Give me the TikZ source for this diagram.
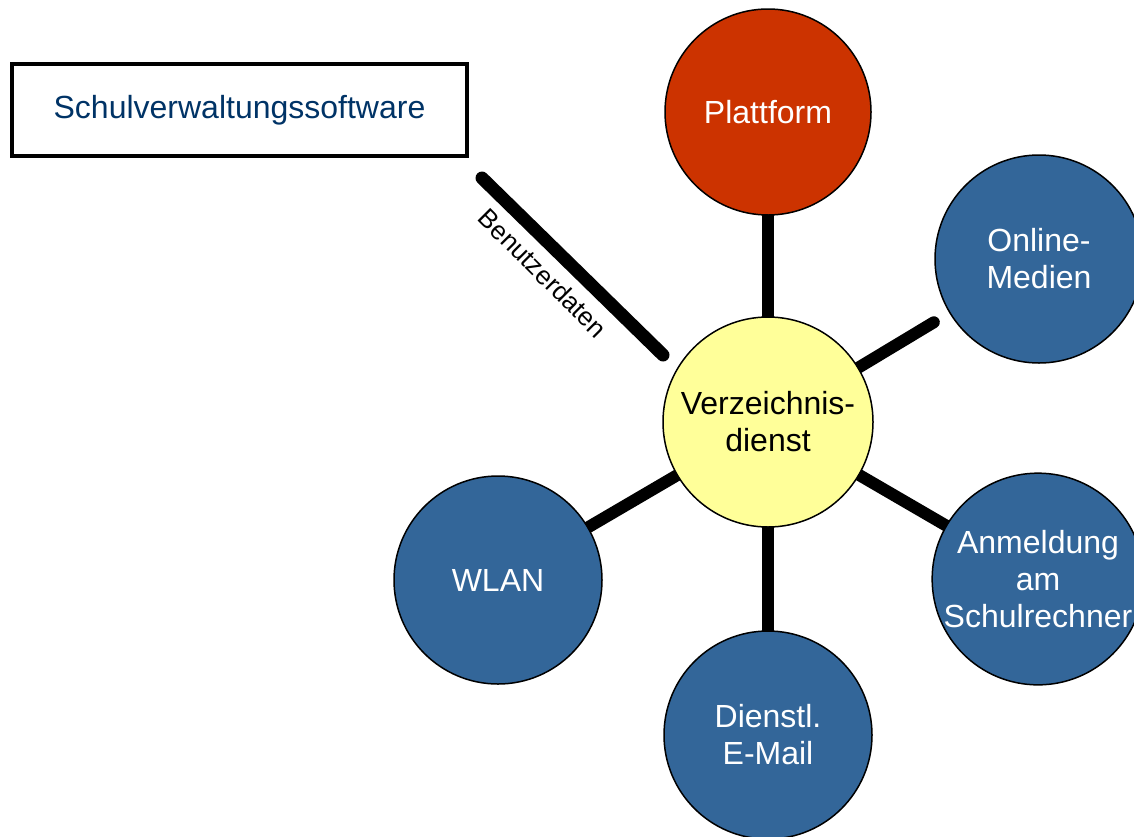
\documentclass[tikz,border=0pt]{standalone}
\usepackage{fontspec}
\setmainfont{Liberation Sans}
\usetikzlibrary{backgrounds}
\definecolor{nodeblue}{RGB}{51,102,153}
\definecolor{nodered}{RGB}{204,51,0}
\definecolor{nodeyellow}{RGB}{255,255,153}
\definecolor{textblue}{RGB}{0,51,102}
\begin{document}
\begin{tikzpicture}[x=1pt,y=-1pt,
  bubble/.style={circle,draw=black,line width=1.5pt,minimum size=208pt,inner sep=0pt,
    align=center,text=white,font=\fontsize{32}{37}\selectfont},
  bluebubble/.style={bubble,fill=nodeblue},
  conn/.style={line width=12pt,line cap=round,draw=black},
  lbl/.style={font=\fontsize{26}{30}\selectfont}]
\useasboundingbox (0,0) rectangle (1134,836);
\node[bubble,fill=nodeyellow,text=black,minimum size=210pt] (vz) at (768,422) {Verzeichnis-\\dienst};
\node[bubble,fill=nodered,minimum size=206pt] (pf) at (768,112) {Plattform};
\node[bluebubble] (om) at (1039,259) {Online-\\Medien};
\node[bluebubble] (an) at (1038,579) {Anmeldung\\am\\Schulrechner};
\node[bluebubble] (dm) at (768,735) {Dienstl.\\E-Mail};
\node[bluebubble] (wl) at (498,580) {WLAN};
\node[draw=black,line width=4pt,minimum width=455pt,minimum height=92pt,inner sep=0pt,
  text=textblue,font=\fontsize{32}{37}\selectfont] (sv) at (239.5,110) {Schulverwaltungssoftware};
\coordinate (bdA) at (482,178);
\coordinate (bdB) at (663,355);
\begin{scope}[on background layer]
\draw[conn] (vz) -- (pf);
\draw[conn,shorten >=18pt] (vz) -- (om);
\draw[conn] (vz) -- (an);
\draw[conn] (vz) -- (dm);
\draw[conn] (vz) -- (wl);
\end{scope}
\draw[line width=13pt,line cap=round] (bdA) -- (bdB);
\node[lbl,rotate=-45] (bdl) at (543,273) {Benutzerdaten};
\end{tikzpicture}
\end{document}
